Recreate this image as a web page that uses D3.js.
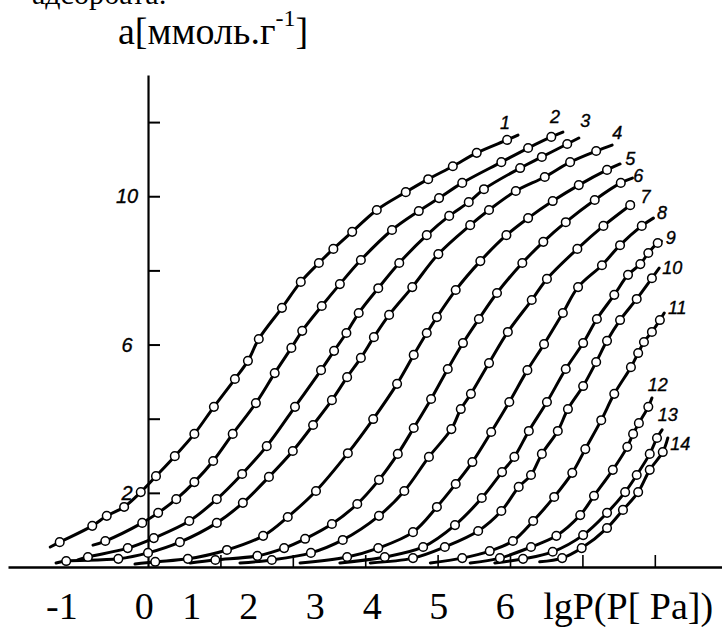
<!DOCTYPE html>
<html lang="ru">
<head>
<meta charset="UTF-8">
<title>Изотермы адсорбции</title>
<script src="https://d3js.org/d3.v7.min.js"></script>
<style>
  html, body { margin: 0; padding: 0; background: #fff; }
  svg { display: block; }
  .serif { font-family: "Liberation Serif", "Times New Roman", serif; fill: #000; }
  .fig { font-family: "Liberation Sans", Arial, sans-serif; font-style: italic; fill: #000; stroke: #000; stroke-width: 0.35; }
</style>
</head>
<body>
<svg id="chart" width="722" height="627"></svg>
<script>
// marker points [lgP in tick units, a in mmol/g]
const curve1 = [[-1.22,0.67],[-0.77,1.11],[-0.57,1.38],[-0.33,1.62],[-0.10,2.02],[0.11,2.45],[0.37,2.99],[0.64,3.59],[0.91,4.32],[1.20,5.07],[1.38,5.56],[1.53,6.15],[1.85,6.99],[2.11,7.69],[2.36,8.20],[2.56,8.58],[2.82,9.04],[3.16,9.63],[3.56,10.11],[3.87,10.46],[4.21,10.81],[4.54,11.17],[4.96,11.52]];
const curve2 = [[-0.59,0.70],[-0.08,1.19],[0.14,1.46],[0.39,1.83],[0.64,2.29],[0.90,2.86],[1.17,3.59],[1.49,4.42],[1.75,5.23],[1.98,5.91],[2.13,6.37],[2.40,7.04],[2.65,7.63],[2.94,8.28],[3.37,9.09],[3.74,9.60],[4.02,9.95],[4.34,10.36],[4.88,10.92],[5.25,11.30],[5.57,11.60]];
const curve3 = [[-0.83,0.27],[-0.28,0.51],[0.08,0.78],[0.57,1.24],[0.95,1.83],[1.30,2.51],[1.64,3.26],[2.03,4.32],[2.39,5.31],[2.57,5.83],[2.74,6.31],[2.91,6.85],[3.18,7.52],[3.47,8.20],[3.85,8.95],[4.16,9.47],[4.43,9.84],[4.64,10.19],[5.14,10.76],[5.44,11.06],[5.79,11.41]];
const curve4 = [[-1.13,0.16],[-0.41,0.22],[0.00,0.38],[0.44,0.67],[0.95,1.19],[1.31,1.73],[1.67,2.43],[2.00,3.13],[2.28,3.83],[2.54,4.50],[2.75,5.12],[2.94,5.64],[3.12,6.20],[3.33,6.80],[3.65,7.55],[4.01,8.44],[4.45,9.22],[4.71,9.63],[5.08,10.14],[5.48,10.52],[5.83,10.92],[6.19,11.22]];
const curve5 = [[0.10,0.14],[0.55,0.22],[1.09,0.46],[1.59,0.84],[1.93,1.35],[2.32,2.05],[2.76,3.07],[3.11,3.99],[3.44,4.94],[3.67,5.72],[3.85,6.31],[3.99,6.74],[4.25,7.47],[4.59,8.25],[4.95,8.95],[5.25,9.41],[5.59,9.87],[5.95,10.30],[6.34,10.71]];
const curve6 = [[0.93,0.19],[1.51,0.30],[1.88,0.51],[2.17,0.76],[2.54,1.16],[2.89,1.70],[3.19,2.35],[3.45,3.05],[3.67,3.75],[3.91,4.53],[4.14,5.34],[4.35,6.04],[4.57,6.69],[4.82,7.39],[5.17,8.20],[5.46,8.77],[5.77,9.30],[6.17,9.90],[6.53,10.36]];
const curve7 = [[1.71,0.19],[2.25,0.38],[2.69,0.73],[3.19,1.38],[3.54,2.05],[3.88,2.97],[4.19,3.72],[4.32,4.26],[4.46,4.67],[4.71,5.50],[4.97,6.34],[5.30,7.20],[5.51,7.77],[5.93,8.58],[6.29,9.20],[6.66,9.76]];
const curve8 = [[2.75,0.27],[3.18,0.51],[3.66,0.94],[3.99,1.62],[4.25,2.24],[4.48,2.83],[4.74,3.64],[4.99,4.45],[5.24,5.31],[5.47,6.01],[5.73,6.85],[5.94,7.55],[6.27,8.14],[6.52,8.68],[6.82,9.20]];
const curve9 = [[3.27,0.27],[3.80,0.54],[4.24,1.13],[4.61,1.86],[4.89,2.56],[5.06,2.97],[5.26,3.67],[5.51,4.45],[5.77,5.34],[6.01,6.04],[6.20,6.69],[6.44,7.34],[6.63,7.88],[6.80,8.17],[6.91,8.47],[7.04,8.74]];
const curve10 = [[3.66,0.24],[4.10,0.54],[4.56,0.97],[4.88,1.51],[5.12,2.16],[5.29,2.48],[5.44,3.05],[5.66,3.67],[5.80,4.26],[6.01,4.88],[6.19,5.53],[6.34,6.10],[6.52,6.66],[6.75,7.23],[6.96,7.79]];
const curve11 = [[4.34,0.24],[4.72,0.43],[5.04,0.70],[5.32,1.24],[5.61,1.89],[5.86,2.54],[6.04,3.18],[6.26,3.96],[6.44,4.67],[6.67,5.39],[6.77,5.77],[6.85,6.07],[6.96,6.34],[7.07,6.66]];
const curve12 = [[4.86,0.24],[5.29,0.54],[5.64,0.84],[5.97,1.40],[6.16,1.92],[6.42,2.62],[6.62,3.24],[6.70,3.59],[6.78,3.88],[6.91,4.32]];
const curve13 = [[5.18,0.22],[5.59,0.41],[6.01,0.86],[6.34,1.46],[6.59,2.02],[6.75,2.48],[6.93,3.05],[7.03,3.48]];
const curve14 = [[5.72,0.24],[5.99,0.51],[6.34,1.05],[6.56,1.54],[6.77,2.02],[6.93,2.62],[7.11,3.10]];

const curves = [curve1, curve2, curve3, curve4, curve5, curve6, curve7, curve8, curve9, curve10, curve11, curve12, curve13, curve14];
const curveNames = ["1","2","3","4","5","6","7","8","9","10","11","12","13","14"];
// where each drawn line starts and stops (no marker there)
const lineStarts = [[-1.35,0.54],[-0.76,0.59],[-0.97,0.19],[-1.27,0.11],[-0.18,0.08],[0.58,0.11],[1.27,0.11],[2.10,0.11],[2.65,0.11],[3.07,0.11],[3.90,0.11],[4.45,0.11],[4.79,0.11],[5.41,0.14]];
const lineEnds = [[5.11,11.65],[5.73,11.73],[5.95,11.57],[6.41,11.38],[6.52,10.87],[6.69,10.49],[6.70,9.82],[6.98,9.41],[7.09,8.79],[7.06,8.06],[7.13,6.85],[6.96,4.56],[7.10,3.70],[7.18,3.48]];
const labelAt = [[4.93,12.00],[5.62,12.14],[6.04,12.03],[6.48,11.73],[6.66,11.03],[6.77,10.57],[6.87,9.98],[7.10,9.55],[7.22,8.90],[7.24,8.09],[7.31,7.01],[7.04,4.91],[7.18,4.10],[7.35,3.34]];

const xTicks = [1, 2, 3, 4, 5, 6, 7];
const yTicks = [2, 4, 6, 8, 10, 12];
const yTickLabels = [2, 6, 10];
const xTickLabels = ["-1", "0", "1", "2", "3", "4", "5", "6"];
const xTypedGaps = [6, 3, 4, 5, 4, 5, 5, 3];
const xTitle = "lgP(P[ Pa])";
const topLine = "адсорбата:";

const svg = d3.select("#chart");

const x = d3.scaleLinear().domain([-1.934, 7.928]).range([8, 722]);
const y = d3.scaleLinear().domain([0, 13.27]).range([567, 75]);

// x axis, ticks pointing up
svg.append("g")
    .attr("transform", `translate(0,${y(0)})`)
    .call(d3.axisBottom(x).tickValues(xTicks).tickSize(-12).tickSizeOuter(0).tickFormat(""))
    .call(g => g.select(".domain").attr("stroke-width", 2.6))
    .call(g => g.selectAll(".tick line").attr("stroke-width", 1.6));

// y axis, ticks to the right
svg.append("g")
    .attr("transform", `translate(${x(0)},0)`)
    .call(d3.axisRight(y).tickValues(yTicks).tickSize(12).tickSizeOuter(0).tickFormat(""))
    .call(g => g.select(".domain").attr("stroke-width", 2.2))
    .call(g => g.selectAll(".tick line").attr("stroke-width", 2));

svg.selectAll(".ylab")
    .data(yTickLabels)
    .enter()
    .append("text")
    .attr("class", "fig")
    .attr("x", x(0) - 21)
    .attr("y", d => y(d))
    .attr("dy", "0.36em")
    .attr("text-anchor", "middle")
    .style("font-size", "20px")
    .text(d => d);

// curves
const line = d3.line()
    .x(d => x(d[0]))
    .y(d => y(d[1]))
    .curve(d3.curveCatmullRom.alpha(0.5));

curves.forEach((pts, i) => {
    svg.append("path")
        .attr("d", line([lineStarts[i], ...pts, lineEnds[i]]))
        .attr("fill", "none")
        .attr("stroke", "#000")
        .attr("stroke-width", 3)
        .attr("stroke-linecap", "round");
});

curves.forEach(pts => {
    svg.append("g")
        .selectAll("circle")
        .data(pts)
        .enter()
        .append("circle")
        .attr("cx", d => x(d[0]))
        .attr("cy", d => y(d[1]))
        .attr("r", 4.3)
        .attr("fill", "#fff")
        .attr("stroke", "#000")
        .attr("stroke-width", 1.5);
});

svg.selectAll(".clab")
    .data(curveNames)
    .enter()
    .append("text")
    .attr("class", "fig")
    .attr("x", (d, i) => x(labelAt[i][0]))
    .attr("y", (d, i) => y(labelAt[i][1]))
    .attr("dy", "0.36em")
    .attr("text-anchor", "middle")
    .style("font-size", "18px")
    .text(d => d);

// typed captions
svg.append("text")
    .attr("class", "serif")
    .attr("x", 32)
    .attr("y", 4)
    .style("font-size", "30px")
    .text(topLine);

const ylab = svg.append("text")
    .attr("class", "serif")
    .attr("x", 118)
    .attr("y", 44)
    .style("font-size", "38px");
ylab.append("tspan").text("a[ммоль.г");
ylab.append("tspan").attr("dy", -18).style("font-size", "24px").text("-1");
ylab.append("tspan").attr("dy", 18).text("]");

const row = xTickLabels.map((t, i) => t + " ".repeat(xTypedGaps[i])).join("") + xTitle;
svg.append("text")
    .attr("class", "serif")
    .attr("x", 46)
    .attr("y", 619)
    .style("font-size", "38px")
    .style("white-space", "pre")
    .text(row);
</script>
</body>
</html>
